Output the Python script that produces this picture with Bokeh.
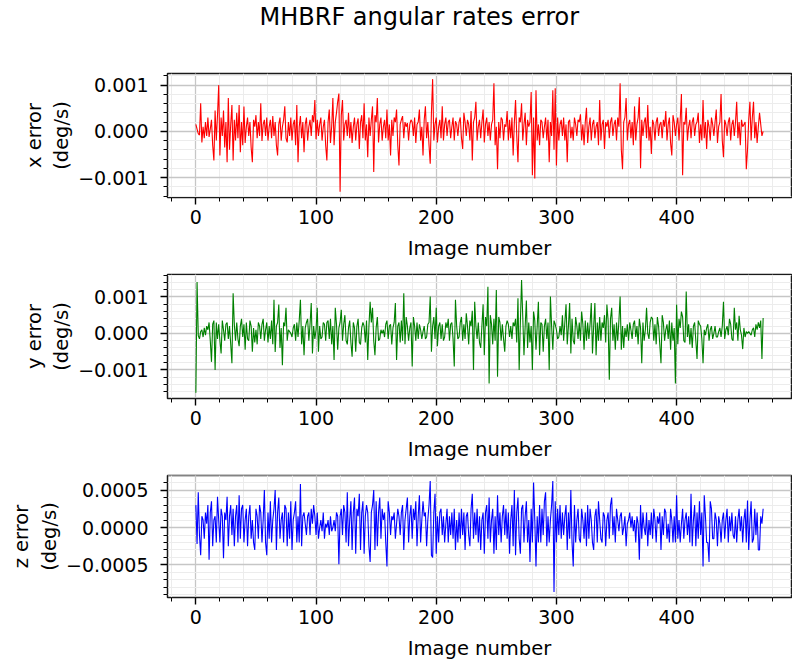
from bokeh.plotting import figure
from bokeh.layouts import column
from bokeh.models import Range1d, FixedTicker, Title, CustomJSTickFormatter
from bokeh.embed import file_html
from bokeh.resources import INLINE

# angular-rate errors, in units of 1e-5 deg/s, one value per image
x_err_e5 = [
    15, 5, -5, -8, 61, -24, 10, -15, 20, -10, 30, -12, 5, 25, -30, -63, 45, -20, 35, 100,
    -52, 30, -10, 45, -35, 20, -67, 72, -40, 15, 57, -63, 25, -20, 40, -15, 57, -45, 20, -30,
    54, -25, 10, 30, -10, 20, -35, -67, 25, 10, 35, -15, 20, -10, 61, -21, 15, 25, -10, 30,
    -20, 10, 25, -15, 33, -10, 20, -30, -52, 15, 30, -20, 10, 25, 54, -15, -24, 20, -10, 30,
    -20, 15, 25, -30, 57, -67, 10, 33, -15, 20, -45, 15, 30, -20, 10, 25, -10, 35, 20, 68,
    -17, 25, -10, 15, 30, -20, 10, 25, -30, -63, 20, 47, -25, 10, 72, -30, 20, 40, 64, 82,
    -131, 35, 68, -20, 15, 25, -10, 40, -15, 20, -25, 10, 30, -20, 15, 28, -38, 20, 35, -15,
    61, -20, 15, -56, 30, -10, 25, 54, -88, 35, 20, 72, -24, 15, 30, -20, 10, 25, -15, 47,
    -20, 15, -52, 25, -10, 30, 20, 47, -30, -74, 15, 25, 33, -15, 20, 10, 18, -20, 15, 25,
    20, -10, 30, -25, 15, 20, 47, -20, 10, -52, 25, 54, -15, 20, -30, -70, 40, 113, -20, 15,
    30, -24, 10, 25, -15, 54, -20, 15, 30, -10, 20, 25, -15, 10, 30, -20, 22, 15, -10, 20,
    30, -15, -38, 40, 20, -10, 25, 15, -20, 44, -63, 20, 30, 64, -20, 10, 25, -15, 20, 47,
    -24, 15, 30, -10, 20, -20, 15, 25, 104, -30, 10, -82, 20, -15, 30, 25, -20, 15, 10, 44,
    -20, 25, -15, 30, -52, 20, 68, -10, -67, 30, 20, 61, -20, 15, 40, -30, 25, 10, 20, 85,
    -95, 30, -102, 89, -20, 15, -30, 25, 20, -15, 10, 30, -20, 25, -67, 20, -10, 89, -40, 93,
    -74, 30, -20, 15, 25, -10, 30, -20, 15, -67, 20, 25, -15, 10, -20, 30, 15, -10, 25, 20,
    37, -20, 15, -30, 20, 51, -25, 10, 30, -20, 15, 25, -15, 10, 20, -30, 68, -20, 15, 25,
    -38, 20, 10, 25, -15, 20, 30, -10, 15, 25, -20, 30, 10, 104, -40, -82, 20, 30, 72, -20,
    15, 25, -15, 20, -30, 54, -20, 15, 30, 74, -80, 25, -10, 20, 30, -15, 57, -20, 10, -49,
    25, 15, -20, 20, 30, -10, 15, 20, -15, 25, 10, 44, -20, 15, 30, -25, -52, 35, 20, -10,
    15, 30, -20, 25, 81, -95, 20, 15, 51, -20, 10, 25, -15, 20, 30, -10, 15, 20, 40, -25,
    15, -20, 68, -15, 20, -38, 25, 10, -20, 30, 15, -10, 20, 47, -25, 10, 20, 81, -20, -56,
    25, 15, -10, 20, 30, -20, 15, 25, -10, 20, 64, -15, 20, -30, 25, 10, 15, 20, -82, -40,
    25, 64, -20, 30, 64, -15, 20, -25, 10, 40, 15, -10, 0,
]

y_err_e5 = [
    -163, 141, -6, -15, 5, 10, -10, 15, -5, 20, 10, 30, -20, -78, 25, 35, -100, 30, -15, 25,
    -20, -55, 35, 10, -20, 25, 30, -15, 20, -30, -82, 110, 25, -20, 30, -15, -35, 20, 40, -10,
    25, -45, 30, -15, -20, 35, 20, -50, 15, -25, 10, -30, 30, 20, -15, 25, 40, -20, 10, 30,
    -25, 20, -15, 35, -30, 92, -51, 20, 30, 79, -40, 15, -87, 30, 20, 70, -20, 10, 5, 0,
    -10, 15, 25, -20, 30, -10, 35, 92, -30, 20, -60, 15, 30, 40, -20, 25, 83, -55, 20, -15,
    10, 70, -50, 20, -15, -10, 30, 25, -20, 30, 35, -15, 40, -30, 20, -73, 70, 25, -45, 15,
    30, 65, -20, 25, 50, -20, -30, 15, 35, -25, -64, 30, 15, -50, 20, 40, -25, -30, 15, 30,
    20, -25, 35, -73, 20, 87, 30, 70, -20, -60, 15, 45, -20, -15, 10, 0, 10, -10, 25, 35,
    -15, 20, 25, -30, 15, 30, 83, -73, 20, 30, -25, 35, -20, 110, -30, 45, 20, -20, 15, 30,
    -91, 45, 20, -20, 30, -15, 25, 10, -15, 5, 20, -15, -10, 25, 30, 101, -50, 20, 45, -15,
    70, -35, 20, 30, -15, 25, -20, -10, 30, 15, 40, -20, 25, 30, -15, -91, 92, 20, -15, -10,
    30, 45, -20, 25, -15, 55, 20, -30, 35, 20, 62, -100, 87, 20, -15, 30, -25, -40, 20, 80,
    -60, 45, 20, 128, -137, 50, 25, -30, 40, -20, 119, -119, 45, 30, -20, 25, -15, -50, 20, 35,
    25, -10, 20, -15, 30, 20, 40, -25, 96, -100, 30, 146, 45, -60, 20, 90, -40, 30, -25, 20,
    -100, 60, 35, -45, 20, 87, -60, 30, 25, -50, 20, 40, -15, 30, -100, 101, 20, -45, 35, 25,
    10, -15, -10, 20, -5, 50, -20, 30, 80, -30, 20, 83, -55, 40, -20, -30, 45, 20, -15, 30,
    -20, 60, 25, -45, 35, -20, 30, -15, 25, 83, -55, 20, 83, -60, 30, -20, 45, -20, 30, 15,
    50, -25, 79, 35, -127, 40, 70, -20, 25, -45, 30, -20, 35, 101, -45, 20, -40, 15, -10, 25,
    -20, 30, 10, -15, 25, 35, -10, 20, -30, 40, 15, -82, 30, -20, 10, 70, 0, -15, 30, 45,
    40, -20, 25, -30, 45, 20, -30, -82, 50, 30, -20, 10, 25, -15, 35, -45, 30, -20, 15, -137,
    79, -30, 40, 15, 60, 45, -20, -25, 115, -10, 25, -30, 15, -40, 20, 30, -20, -70, 35, 25,
    20, -15, -82, 10, -5, 15, 25, -20, 10, 20, -15, 0, 20, -10, -10, 5, 15, -10, 20, 87,
    -15, 10, 20, -5, 40, 25, -15, -20, 70, 10, 30, -20, 48, 10, -5, -43, 15, -10, 5, 0,
    5, 0, -5, 10, 15, -10, 25, 10, 30, 15, 35, -70, 42,
]

z_err_e5 = [
    30, -22, 47, -10, -37, 15, 10, -15, 20, 5, 30, -43, 20, 35, -25, 10, 15, -20, 41, 10,
    -20, 25, 15, -41, 20, 10, 41, -25, 15, 30, -10, 25, -25, 15, 30, -20, 43, -15, 25, 30,
    -20, 10, 25, -25, 15, 30, -15, 10, -20, -30, 25, 15, -15, 30, 20, -20, 10, 50, -20, -37,
    20, -15, 35, -20, 10, 25, 50, -30, 20, 40, -15, 10, 20, -20, 30, 25, -25, 20, -15, 35,
    -30, 10, 20, 35, -20, 15, -20, 58, -25, 15, 20, 5, -10, 15, 20, -10, 25, 5, 30, 15,
    -10, 20, -15, 0, 10, -5, 20, -15, 5, 0, 10, -10, 15, -5, 0, 10, -5, 20, 15, -49,
    15, 25, -10, 30, 20, -20, 47, -25, 10, 35, -30, 20, 40, -35, 25, 15, 45, -30, 20, 35,
    -35, 15, 30, 20, -25, -46, 20, 30, 50, -30, 35, -25, 20, 40, -15, 25, 10, 20, -20, -52,
    35, 20, -10, 15, 10, 20, -15, 5, 25, 15, -10, 20, 30, -30, 10, 25, 40, -20, 15, 30,
    -15, 25, 10, 35, -25, 15, 43, -20, 10, 35, 15, 20, -25, 10, 30, 62, -37, -40, 20, 45,
    -35, 15, -20, 20, 25, -10, 15, -20, 5, 25, -20, 15, -10, 20, -15, 25, -30, 10, -20, 20,
    -15, 25, -10, 20, -30, 15, 20, -10, -25, 25, 45, -15, 20, -10, 25, -20, 15, -30, 10, 20,
    -35, 20, 30, -15, 40, -20, 10, 25, -35, 15, -30, 43, -10, 20, -20, 15, 30, -10, 25, -15,
    20, -35, 10, 30, -25, 50, -37, 20, 40, -15, -35, 25, 30, -20, 15, 35, -20, 10, -46, 25,
    -20, 60, 10, -52, 15, -20, 30, -20, 25, -10, 35, 47, -25, 15, -20, 10, 30, 62, -86, 35,
    -20, 25, -10, 30, -15, 20, -10, 15, 30, -30, 20, -15, 50, -20, -52, 30, -20, 10, 25, -15,
    -20, 25, 10, -15, 20, -25, 30, -15, 25, 10, -20, -30, 15, 25, -20, 35, 10, -15, -20, 20,
    15, -25, 10, 20, -15, 30, 40, -10, 15, -20, 25, 10, -5, 15, 20, -10, 0, 15, -25, 5,
    10, 20, 0, 15, -5, 10, -20, 15, 5, -43, 30, -15, 20, 0, -10, 20, -25, 10, -10, 20,
    -15, 25, 10, -20, 15, 5, 20, -30, 15, -10, 25, 20, -15, 5, -20, 25, 10, -20, 15, -20,
    43, -15, 10, -20, 5, 25, -15, 10, 20, -10, 15, -20, 45, -25, 10, 30, -25, 20, -15, 35,
    -10, 20, -52, 43, 15, -20, -20, -46, 35, 25, -15, -15, 20, 10, -25, 15, 5, -20, 10, 20,
    -15, 10, 25, -20, 15, -5, 20, -10, -15, 15, -20, 10, 25, -5, 15, -20, 10, 25, -20, 36,
    -30, 10, 35, -20, -15, 25, -10, 20, -30, -30, 15, 5, 25,
]

series = [
    ("x error\n(deg/s)", x_err_e5, "red", 3),
    ("y error\n(deg/s)", y_err_e5, "green", 3),
    ("z error\n(deg/s)", z_err_e5, "blue", 4),
]
major_y = [[-0.001, 0.0, 0.001], [-0.001, 0.0, 0.001], [-0.0005, 0.0, 0.0005]]
minor_y = [
    [k * 0.0002 for k in range(-9, 9)],
    [k * 0.0002 for k in range(-9, 9)],
    [k * 0.0001 for k in range(-10, 8)],
]
x_major = [0, 100, 200, 300, 400]
x_minor = list(range(-20, 500, 20))
title_text = "MHBRF angular rates error"
xlabel = "Image number"

FONT = "DejaVu Sans"
heights = [262, 201, 199]
tops = [73, 12, 12]
bottoms = [63, 63, 61]

plots = []
for i, (label, vals_e5, color, prec) in enumerate(series):
    vals = [v * 1e-5 for v in vals_e5]
    xs = list(range(len(vals)))
    xspan = xs[-1] - xs[0]
    ymin, ymax = min(vals), max(vals)
    yspan = ymax - ymin
    p = figure(
        width=792, height=heights[i],
        x_range=Range1d(xs[0] - 0.05 * xspan, xs[-1] + 0.05 * xspan),
        y_range=Range1d(ymin - 0.05 * yspan, ymax + 0.05 * yspan),
        output_backend="svg", toolbar_location=None,
        min_border_left=167, min_border_right=1,
        min_border_top=tops[i], min_border_bottom=bottoms[i],
    )
    p.line(xs, vals, line_color=color, line_width=1.1)

    xt = FixedTicker(ticks=x_major, minor_ticks=x_minor)
    yt = FixedTicker(ticks=major_y[i], minor_ticks=minor_y[i])
    p.xaxis.ticker = xt
    p.xgrid.ticker = xt
    p.yaxis.ticker = yt
    p.ygrid.ticker = yt
    p.yaxis.formatter = CustomJSTickFormatter(
        code="return tick.toFixed(%d).replace('-', '\u2212');" % prec)

    for g in (p.xgrid[0], p.ygrid[0]):
        g.grid_line_color = "#c6c6c6"
        g.grid_line_width = 1.3
        g.minor_grid_line_color = "#ececec"
        g.minor_grid_line_width = 1.0

    p.outline_line_color = "#1a1a1a"
    p.outline_line_width = 1.5
    p.background_fill_color = "white"
    p.border_fill_color = "white"

    for ax in (p.xaxis[0], p.yaxis[0]):
        ax.axis_line_color = None
        ax.major_tick_in = 0
        ax.major_tick_out = 7
        ax.minor_tick_in = 0
        ax.minor_tick_out = 4
        ax.major_tick_line_color = "black"
        ax.minor_tick_line_color = "black"
        ax.major_tick_line_width = 1.4
        ax.minor_tick_line_width = 1.0
        ax.major_label_text_font = FONT
        ax.major_label_text_font_size = "19px"
        ax.major_label_text_color = "black"
        ax.axis_label_text_font = FONT
        ax.axis_label_text_font_size = "19.5px"
        ax.axis_label_text_font_style = "normal"
        ax.axis_label_text_color = "black"

    p.xaxis.axis_label = xlabel
    p.xaxis.major_label_standoff = 5
    p.xaxis.axis_label_standoff = 10
    p.yaxis.axis_label = label
    p.yaxis.major_label_standoff = 12
    p.yaxis.axis_label_standoff = 2

    if i == 0:
        # empty spacer title keeps the real title near the top of the page
        p.add_layout(Title(text=" ", text_font=FONT, text_font_size="10px",
                           standoff=30), "above")
        p.add_layout(Title(text=title_text, align="left", offset=92, standoff=0,
                           text_font=FONT, text_font_size="24px",
                           text_font_style="normal", text_color="black"), "above")
    plots.append(p)

layout = column(*plots)
open("out.html", "w").write(file_html(layout, INLINE))
